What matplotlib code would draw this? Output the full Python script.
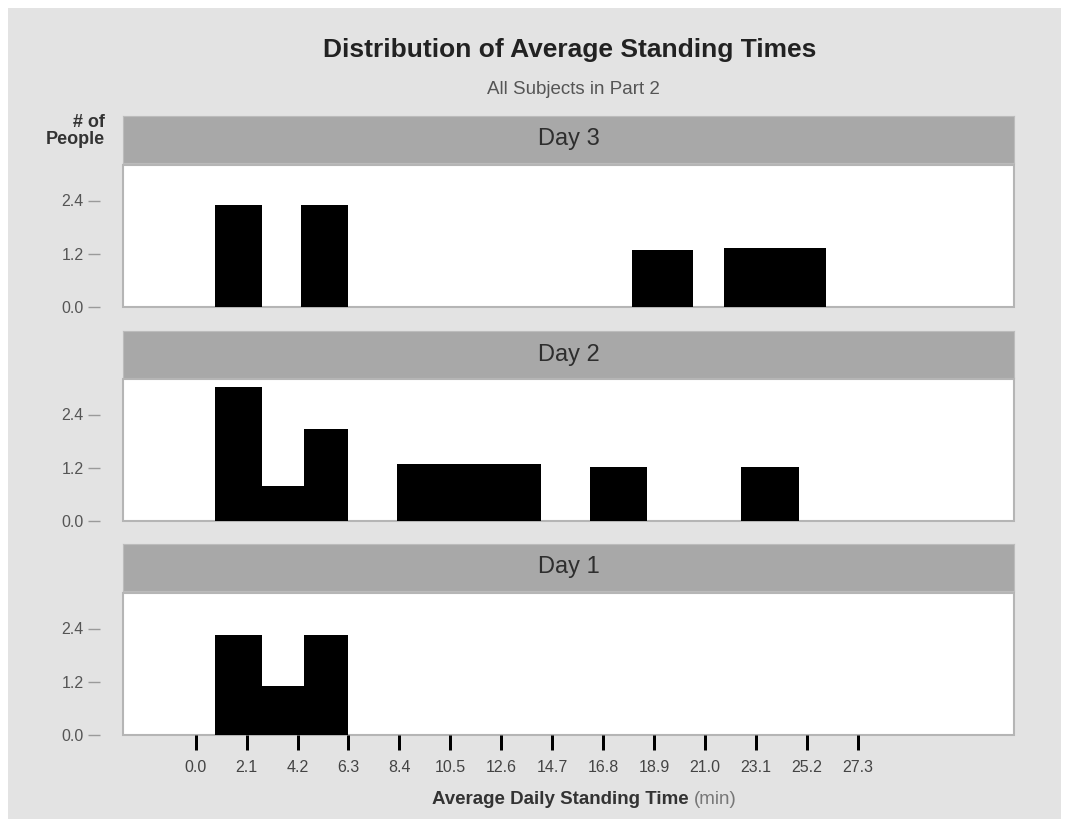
#!/usr/bin/env python3
"""Distribution of average standing times, three stacked day panels."""

import matplotlib
matplotlib.use("Agg")
import matplotlib.pyplot as plt
from matplotlib.patches import Rectangle

plt.rcParams['font.family'] = ['Liberation Sans', 'DejaVu Sans']

# bin edges (min) and heights for each day
day3_left = [0.8, 4.35, 18.0, 21.8]
day3_right = [2.75, 6.3, 20.5, 26.0]
day3_height = [2.3, 2.3, 1.28, 1.33]

day2_left = [0.8, 2.75, 4.45, 8.3, 16.25, 22.5]
day2_right = [2.75, 4.45, 6.3, 14.25, 18.6, 24.9]
day2_height = [3.02, 0.79, 2.07, 1.28, 1.22, 1.22]

day1_left = [0.8, 2.75, 4.45]
day1_right = [2.75, 4.45, 6.3]
day1_height = [2.25, 1.1, 2.25]

day_labels = ["Day 3", "Day 2", "Day 1"]
x_ticks = [0.0, 2.1, 4.2, 6.3, 8.4, 10.5, 12.6, 14.7, 16.8, 18.9, 21.0, 23.1, 25.2, 27.3]
y_ticks = [0.0, 1.2, 2.4]

W, H = 1069, 827
PT = 0.72  # points per pixel at dpi 100
fig = plt.figure(figsize=(W / 100, H / 100), dpi=100)
fig.patch.set_facecolor('white')
fig.add_artist(Rectangle((8 / W, 8 / H), 1 - 16 / W, 1 - 16 / H, transform=fig.transFigure,
                         facecolor='#e3e3e3', edgecolor='none', zorder=-10))

panels = [
    (day3_left, day3_right, day3_height),
    (day2_left, day2_right, day2_height),
    (day1_left, day1_right, day1_height),
]
plot_bottoms = [1 - 307 / H, 1 - 521 / H, 1 - 735 / H]
head_bottoms = [1 - 163 / H, 1 - 378 / H, 1 - 591 / H]
left, width = 123 / W, 891 / W
plot_h, head_h = 142 / H, 47 / H

for i, (lefts, rights, heights) in enumerate(panels):
    # grey header strip
    hax = fig.add_axes([left, head_bottoms[i], width, head_h])
    hax.set_facecolor('#a8a8a8')
    for s in hax.spines.values():
        s.set_color('#bcbcbc')
    hax.set_xticks([])
    hax.set_yticks([])
    hax.text(0.5, 0.5, day_labels[i], ha='center', va='center', fontsize=17, color='#2e2e2e')

    ax = fig.add_axes([left, plot_bottoms[i], width, plot_h])
    ax.set_facecolor('white')
    ax.patch.set_edgecolor('#b5b5b5')
    ax.patch.set_linewidth(1.5)
    widths = [r - l for l, r in zip(lefts, rights)]
    ax.bar(lefts, heights, width=widths, align='edge', color='black', edgecolor='none')
    ax.set_xlim(-3.0, 33.75)
    ax.set_ylim(0, 3.2)

    for name in ['top', 'right', 'bottom']:
        ax.spines[name].set_visible(False)
    ax.spines['left'].set_position(('outward', 23 * PT))
    ax.spines['left'].set_visible(False)
    ax.set_yticks(y_ticks)
    ax.set_yticklabels([f"{v:.1f}" for v in y_ticks])
    ax.tick_params(axis='y', length=12 * PT, width=1, color='#9a9a9a', labelsize=11.5,
                   labelcolor='#555555', pad=3)

    if i == 2:
        ax.set_xticks(x_ticks)
        ax.set_xticklabels([f"{v:.1f}" for v in x_ticks])
        ax.tick_params(axis='x', length=15 * PT, width=3 * PT, color='black', labelsize=11.5,
                       labelcolor='#444444', pad=7)
    else:
        ax.set_xticks([])

fig.text(569.5 / W, 1 - 50 / H, "Distribution of Average Standing Times", ha='center', va='center',
         fontsize=19, fontweight='bold', color='#222222')
fig.text(573 / W, 1 - 89 / H, "All Subjects in Part 2", ha='center', va='center',
         fontsize=13.5, color='#555555')
fig.text(105 / W, 1 - 131 / H, "# of\nPeople", ha='right', va='center', fontsize=13,
         fontweight='bold', color='#333333', linespacing=0.95, multialignment='right')

t1 = fig.text(432 / W, 1 - 800 / H, "Average Daily Standing Time ", ha='left', va='center',
              fontsize=13.5, fontweight='bold', color='#333333')
plt.gca().annotate("(min)", xy=(1, 0), xycoords=t1, va='bottom', ha='left',
                   fontsize=13.5, color='#777777', annotation_clip=False)

fig.savefig("out.png", dpi=100)
